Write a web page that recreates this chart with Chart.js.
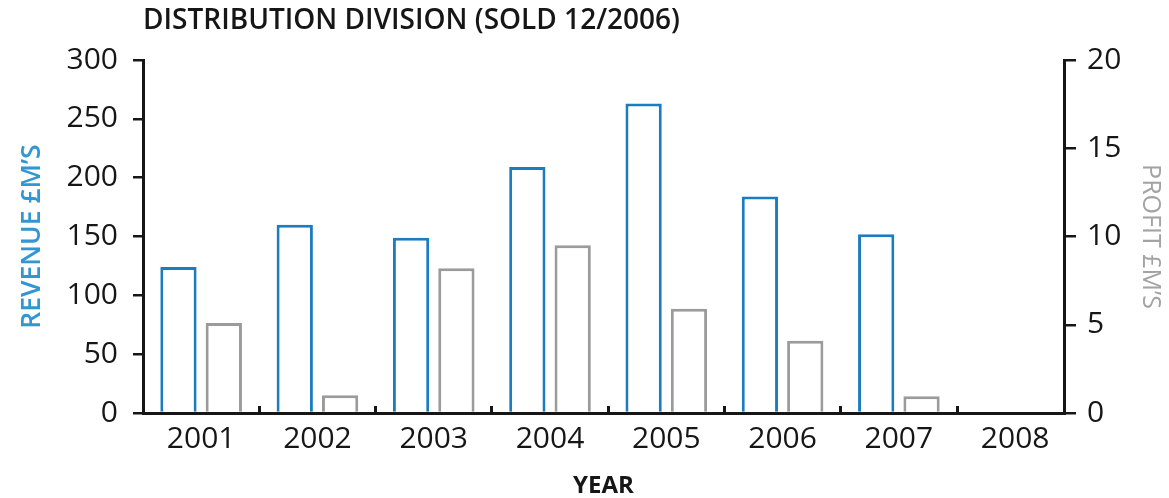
<!DOCTYPE html>
<html>
<head>
<meta charset="utf-8">
<title>Distribution division</title>
<script src="https://cdn.jsdelivr.net/npm/chart.js@4.4.1/dist/chart.umd.min.js"></script>
<style>
  html, body { margin: 0; padding: 0; background: #fff; }
  #wrap { width: 1169px; height: 498px; }
</style>
</head>
<body>
<div id="wrap"><canvas id="chart"></canvas></div>
<script>
// values
const years        = [2001, 2002, 2003, 2004, 2005, 2006, 2007, 2008];
const revenue      = [124, 160, 149, 209, 263, 184, 152, null];   // £m, left axis
const profit       = [5.1, 1.0, 8.2, 9.5, 5.9, 4.1, 0.95, null];  // £m, right axis
const revenueTicks = [0, 50, 100, 150, 200, 250, 300];
const profitTicks  = [0, 5, 10, 15, 20];

const ink   = '#161616';
const blue  = '#1c7cc0';
const blueT = '#3197d4';
const grey  = '#9b9b9b';
const greyT = '#a3a3a3';
const face  = "'Open Sans', 'Noto Sans', sans-serif";

const step = (t) => t[1] - t[0];

new Chart(document.getElementById('chart'), {
  type: 'bar',
  data: {
    labels: years,
    datasets: [
      {
        label: 'Revenue',
        data: revenue,
        yAxisID: 'y',
        backgroundColor: '#fff',
        borderColor: blue,
        borderWidth: 3,
        categoryPercentage: 0.78,
        barPercentage: 0.8,
      },
      {
        label: 'Profit',
        data: profit,
        yAxisID: 'y1',
        backgroundColor: '#fff',
        borderColor: grey,
        borderWidth: 3,
        categoryPercentage: 0.78,
        barPercentage: 0.8,
      },
    ],
  },
  options: {
    responsive: true,
    maintainAspectRatio: false,
    animation: false,
    layout: { padding: 0 },
    plugins: {
      legend: { display: false },
      tooltip: { enabled: false },
      title: {
        display: true,
        fullSize: false,
        align: 'start',
        text: 'DISTRIBUTION DIVISION (SOLD 12/2006)',
        color: ink,
        font: { family: face, size: 28, weight: '600', lineHeight: 1.2 },
        padding: { top: 4, bottom: 22.4 },
      },
    },
    scales: {
      x: {
        type: 'linear',
        offset: false,
        // the printed axis stops a little short of the 2008 slot
        min: years[0] - 0.5,
        max: 2008.42,
        afterFit: (s) => { s.height = 85; },
        border: { color: ink, width: 3 },
        grid: { offset: true, drawOnChartArea: false, tickLength: -7, color: ink, lineWidth: 3 },
        ticks: {
          stepSize: 1,
          includeBounds: false,
          autoSkip: false,
          maxRotation: 0,
          padding: 15,
          color: ink,
          font: { family: face, size: 30 },
          callback: (v) => String(v),
        },
        title: {
          display: true,
          text: 'YEAR',
          color: ink,
          font: { family: face, size: 24, weight: '700', lineHeight: 1 },
          padding: { top: 0, bottom: 0 },
        },
      },
      y: {
        position: 'left',
        min: revenueTicks[0],
        max: revenueTicks[revenueTicks.length - 1],
        afterFit: (s) => { s.width = 143; },
        border: { color: ink, width: 3 },
        grid: { drawOnChartArea: false, tickLength: 10, color: ink, lineWidth: 2.5 },
        ticks: {
          stepSize: step(revenueTicks),
          padding: 15,
          color: ink,
          font: { family: face, size: 30 },
        },
        title: {
          display: true,
          text: 'REVENUE £M’S',
          color: blueT,
          font: { family: face, size: 26.5, weight: '600', lineHeight: 1.2 },
          padding: { top: 17, bottom: 0 },
        },
      },
      y1: {
        position: 'right',
        min: profitTicks[0],
        max: profitTicks[profitTicks.length - 1],
        afterFit: (s) => { s.width = 105; },
        border: { color: ink, width: 3 },
        grid: { drawOnChartArea: false, tickLength: 12, color: ink, lineWidth: 2.5 },
        ticks: {
          stepSize: step(profitTicks),
          padding: 11,
          color: ink,
          font: { family: face, size: 30 },
        },
        title: {
          display: true,
          text: 'PROFIT £M’S',
          color: greyT,
          font: { family: face, size: 25, weight: '400', lineHeight: 1.2 },
          padding: { top: 4, bottom: 0 },
        },
      },
    },
  },
});
</script>
</body>
</html>
